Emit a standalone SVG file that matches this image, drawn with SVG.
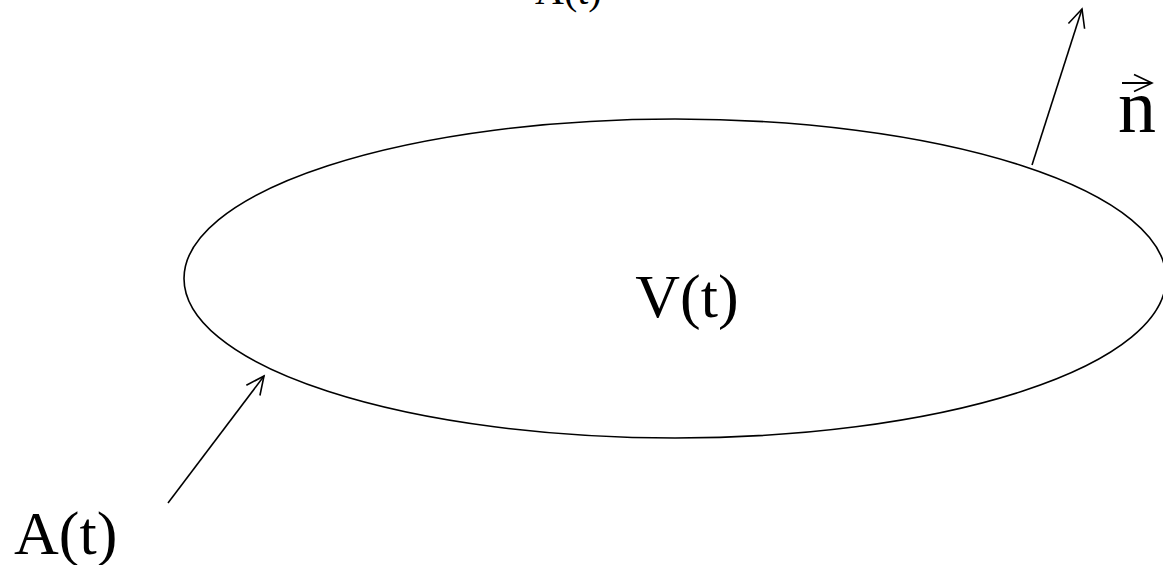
<svg xmlns="http://www.w3.org/2000/svg" width="1163" height="565" viewBox="0 0 1163 565">
<style>
.t{font-family:"Liberation Serif","Times New Roman",serif;fill:#000}
.l{stroke:#000;stroke-width:1.6;fill:none}
</style>
<defs>
<marker id="a" markerUnits="userSpaceOnUse" markerWidth="30" markerHeight="30" viewBox="-25 -15 30 30" refX="0" refY="0" orient="auto" overflow="visible">
<path d="M-18,-8.5 L0,0 L-18,8.5" fill="none" stroke="#000" stroke-width="1.6"/>
</marker>
</defs>
<rect width="1163" height="565" fill="#fff"/>
<g id="volume">
<ellipse cx="675" cy="278.5" rx="491" ry="159.5" class="l"/>
<text class="t" x="687" y="317" font-size="62" text-anchor="middle">V(t)</text>
</g>
<g id="label-top">
<text class="t" x="535" y="4" font-size="40">A(t)</text>
</g>
<g id="label-bottom">
<text class="t" x="14" y="554" font-size="62">A(t)</text>
</g>
<g id="normal-label">
<text class="t" x="1118" y="132" font-size="76">n</text>
<line x1="1122" y1="83" x2="1152" y2="83" class="l" marker-end="url(#a)" style="stroke-width:2"/>
</g>
<g id="connectors">
<line x1="1032" y1="165" x2="1082" y2="9" class="l" marker-end="url(#a)"/>
<line x1="168" y1="503" x2="264" y2="376" class="l" marker-end="url(#a)"/>
</g>
</svg>
